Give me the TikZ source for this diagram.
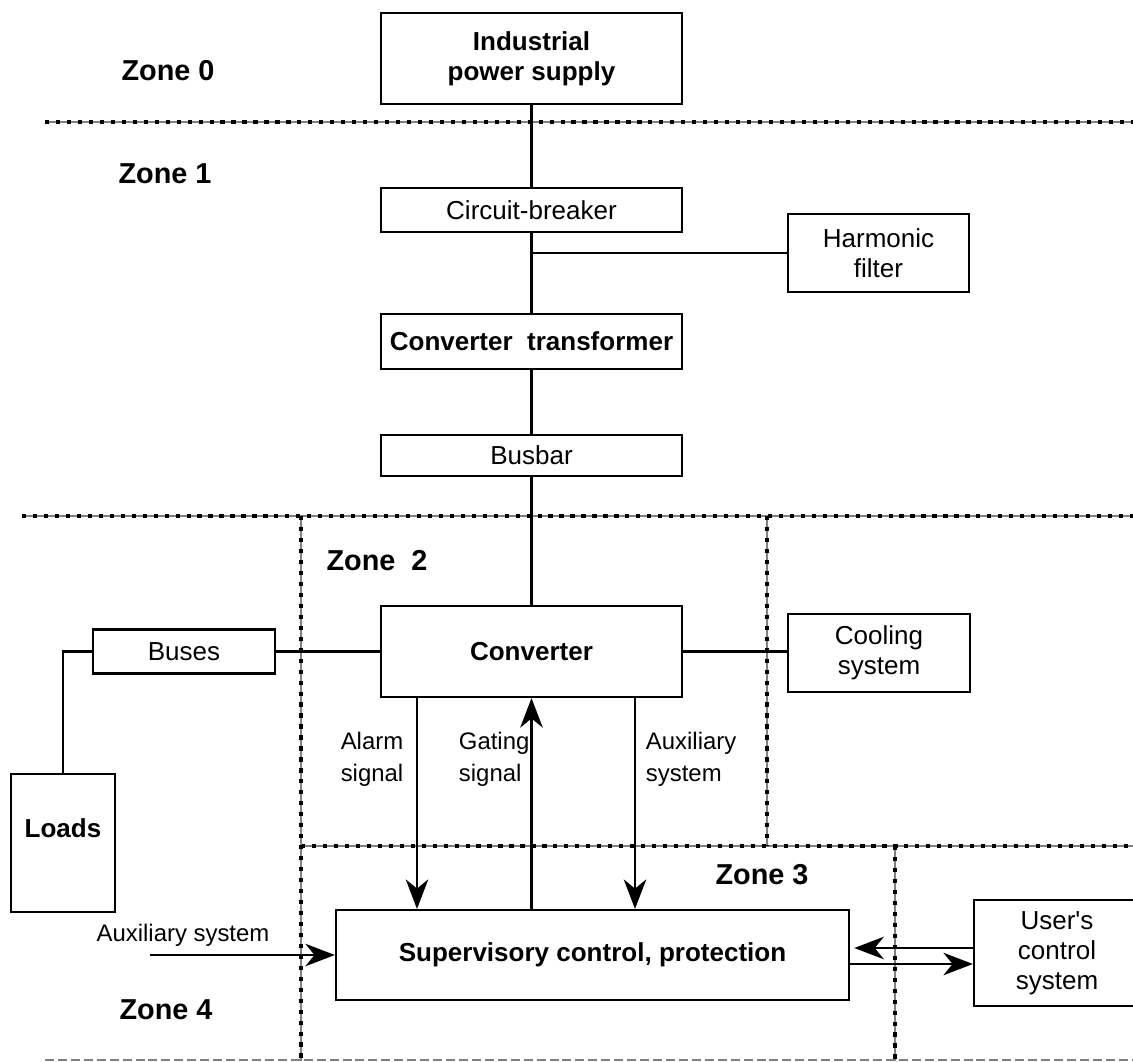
\documentclass[tikz,border=0pt]{standalone}
\usepackage{fontspec}
\setmainfont{Liberation Sans}
\usetikzlibrary{arrows.meta}
\tikzset{every picture/.style={font issue=\fontsize{18.5}{21.5}},
         font issue/.style={execute at begin picture={#1\selectfont}},
         unit/.style={draw, line width=1.5pt, inner sep=0pt, align=center},
         zone/.style={font=\fontsize{20.5}{24}\selectfont\bfseries},
         note/.style={font=\fontsize{17}{22.5}\selectfont},
         border/.style={gray, line width=0.8pt, postaction={draw=black, line width=3pt, dash pattern=on 3pt off 4.8pt}},
         wire/.style={line width=1.5pt},
         sig/.style={line width=1.5pt, -{Stealth[length=21pt, width=16pt, inset=6.5pt]}}
        }
\begin{document}
\begin{tikzpicture}[x=0.025cm, y=-0.025cm]
        \useasboundingbox (0,0) rectangle (1133,1061);
        % zone borders
        \draw [border] (45,122) -- (1133,122);
        \draw [border] (22,516) -- (1133,516);
        \draw [border] (301,846) -- (1133,846);
        \draw [border] (301,516) -- (301,1061);
        \draw [border] (767,516) -- (767,846);
        \draw [border] (895,846) -- (895,1061);
        \draw [gray, line width=0.8pt, dash pattern=on 6.4pt off 2.8pt] (45,1060) -- (1133,1060);
        \node [zone] (z0) at (168,71) {Zone 0};
        \node [zone] (z1) at (165,174) {Zone 1};
        \node [zone] (z2) at (377,561) {Zone~~2};
        \node [zone] (z3) at (762,875) {Zone 3};
        \node [zone] (z4) at (166,1010) {Zone 4};
        % units
        \node [unit, minimum width=7.525cm, minimum height=2.275cm, font=\bfseries] (supply) at (531.5,58.5) {Industrial\\power supply};
        \node [unit, minimum width=7.525cm, minimum height=1.1cm] (breaker) at (531.5,210) {Circuit-breaker};
        \node [unit, minimum width=4.525cm, minimum height=1.95cm] (harmonic) at (878.5,253) {Harmonic\\filter};
        \node [unit, minimum width=7.525cm, minimum height=1.375cm, font=\bfseries] (transformer) at (531.5,341.5) {Converter~~transformer};
        \node [unit, minimum width=7.525cm, minimum height=1.025cm] (busbar) at (531.5,455.5) {Busbar};
        \node [unit, minimum width=7.525cm, minimum height=2.275cm, font=\bfseries] (converter) at (531.5,651.5) {Converter};
        \node [unit, minimum width=4.55cm, minimum height=1.95cm] (cooling) at (879,653) {Cooling\\system};
        \node [unit, minimum width=4.55cm, minimum height=1.1cm] (buses) at (184,651.5) {Buses};
        \node [unit, minimum width=2.6cm, minimum height=3.45cm, font=\bfseries] (loads) at (63,843) {Loads\\\mbox{}};
        \node [unit, minimum width=12.825cm, minimum height=2.25cm, font=\bfseries] (supervisory) at (592.5,955) {Supervisory control, protection};
        \node [unit, minimum width=4.15cm, minimum height=2.65cm] (user) at (1057,953) {User\textquotesingle s\\control\\system};
        % power path
        \draw [wire] (supply) -- (breaker);
        \draw [wire] (breaker) -- (transformer);
        \draw [wire] (breaker.south |- harmonic.west) -- (harmonic.west);
        \draw [wire] (transformer) -- (busbar);
        \draw [wire] (busbar) -- (converter);
        \draw [wire] (buses.east) -- (converter.west);
        \draw [wire] (loads.north) |- (buses.west);
        \draw [wire] (converter.east) -- (converter.east -| cooling.west);
        % signals
        \coordinate (alarm) at (417,0);
        \coordinate (aux) at (635,0);
        \coordinate (upline) at (0,948);
        \coordinate (lowline) at (0,964);
        \coordinate (auxin) at (150,955);
        \draw [sig] (converter.south -| alarm) -- (supervisory.north -| alarm);
        \draw [sig] (supervisory.north -| converter) -- (converter.south);
        \draw [sig] (converter.south -| aux) -- (supervisory.north -| aux);
        \draw [sig] (auxin) -- (supervisory.west);
        \draw [sig, shorten >=3pt] (user.west |- upline) -- (supervisory.east |- upline);
        \draw [sig] (supervisory.east |- lowline) -- (user.west |- lowline);
        \node [note, align=center] (alarmtxt) at (372,759) {Alarm\\signal};
        \node [note, align=left, anchor=west] (gatingtxt) at (450,759) {Gating\\signal};
        \node [note, align=left, anchor=west] (auxtxt) at (637,759) {Auxiliary\\system};
        \node [note] (auxintxt) at (183,935) {Auxiliary system};
      \end{tikzpicture}
\end{document}
